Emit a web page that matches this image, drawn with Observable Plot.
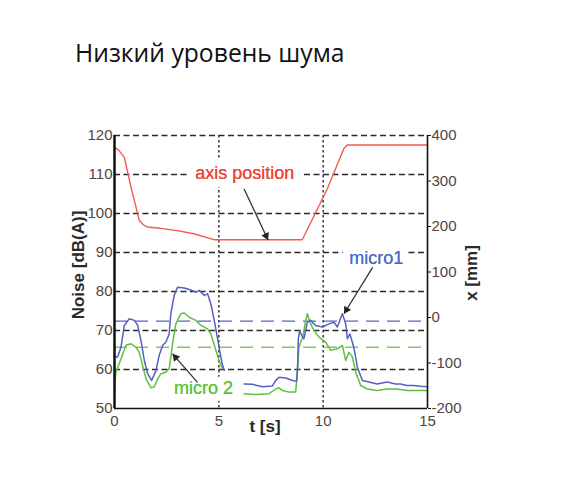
<!DOCTYPE html>
<html>
<head>
<meta charset="utf-8">
<script src="https://cdn.jsdelivr.net/npm/d3@7"></script>
<script src="https://cdn.jsdelivr.net/npm/@observablehq/plot@0.6"></script>
<style>
  html, body { margin: 0; padding: 0; background: #fff; }
  #wrap { position: relative; width: 561px; height: 478px; overflow: hidden; }
  #title { position: absolute; left: 75px; top: 41px; font-family: "Open Sans", sans-serif; font-size: 24.7px; line-height: 24px; color: #111; white-space: nowrap; }
  #chart { position: absolute; left: 0; top: 0; }
</style>
</head>
<body>
<div id="wrap">
  <div id="chart"></div>
  <div id="title"></div>
</div>
<script>
// ---- data ----
const titleText = "Низкий уровень шума";
const xTicks = [0, 5, 10, 15];
const yTicks = [50, 60, 70, 80, 90, 100, 110, 120];
const gridY = [60, 70, 80, 90, 100, 110, 120];
const gridX = [5, 10];
const mmTicks = [-200, -100, 0, 100, 200, 300, 400];

// axis position (mm, right axis)
const timeAxis = [0, 0.2, 0.47, 0.8, 1.19, 1.4, 1.57, 2.2, 3.0, 3.8, 4.76, 9.0, 10.2, 11.0, 11.15, 15];
const posAxis  = [374, 368, 352, 285, 213, 203, 199, 196, 191, 184, 171, 171, 283, 372, 379, 379];

// micro1 (dB(A))
const timeMicro1 = [0, 0.15, 0.31, 0.47, 0.71, 0.95, 1.11, 1.27, 1.43, 1.59, 1.78, 1.99, 2.14, 2.31, 2.46, 2.62, 2.70, 2.86, 3.02, 3.34, 3.66, 3.9, 4.06, 4.3, 4.46, 4.62, 4.78, 4.94, 5.05, 5.18, 5.26,
  5.7,
  6.21, 6.61, 7.09, 7.57, 7.73, 7.89, 8.21, 8.53, 8.73, 8.78, 8.81, 8.88, 8.97, 9.08, 9.24, 9.4, 9.64, 9.96, 10.28, 10.52, 10.68, 10.92, 11.08, 11.16, 11.28, 11.47, 11.64, 11.88, 12.19, 12.59, 13.07, 13.47, 13.7, 14.03, 14.34, 14.67, 15];
const noiseMicro1 = [63.2, 63.2, 65.7, 71.3, 73, 72.6, 71.3, 67.4, 62.3, 58.9, 57.2, 59.7, 63.6, 66.2, 67, 69.1, 74.3, 79, 81.1, 80.9, 80.4, 79.8, 80.3, 79, 79.4, 76.8, 72.6, 67.9, 64.5, 61, 59.8,
  null,
  56.3, 56.2, 55.6, 55.8, 57.2, 58, 57.8, 57.2, 57, 61.5, 67.9, 70, 68.7, 67.9, 72.1, 72.6, 71.3, 70.9, 71.7, 72.1, 70.9, 74.3, 71.7, 67.9, 69.1, 65.7, 60.6, 57.2, 56.8, 56.3, 56.8, 56.3, 56.3, 55.9, 55.9, 55.7, 55.6];

// micro 2 (dB(A))
const timeMicro2 = [0, 0.02, 0.08, 0.31, 0.55, 0.79, 1.03, 1.19, 1.35, 1.51, 1.75, 1.9, 2.07, 2.22, 2.46, 2.62, 2.70, 2.78, 2.94, 3.18, 3.34, 3.58, 3.9, 4.14, 4.46, 4.62, 4.86, 5.01, 5.18,
  5.7,
  6.21, 6.77, 7.41, 7.73, 7.89, 8.05, 8.36, 8.68, 8.76, 8.84, 8.92, 9.03, 9.13, 9.24, 9.4, 9.56, 9.8, 10.12, 10.36, 10.68, 10.92, 11.08, 11.24, 11.4, 11.56, 11.8, 12.11, 12.59, 13.07, 13.55, 14.03, 14.67, 15];
const noiseMicro2 = [54.5, 57.2, 59.5, 62.7, 66.2, 66.6, 65.7, 64.4, 61, 57.6, 55.3, 55.5, 57.6, 58.9, 59.3, 60.2, 63.2, 66.6, 71.7, 74.3, 74.5, 73.4, 72.6, 71.3, 70.4, 69.1, 64.9, 62.3, 60.2,
  null,
  53.8, 53.6, 53.8, 55, 55.3, 54.6, 54.2, 54.2, 58.9, 65.7, 67, 68.3, 71.7, 74.3, 71.7, 70, 68.3, 67, 64.9, 65.3, 66.2, 62.3, 64.4, 63.2, 59.3, 55.9, 55, 54.6, 55, 55, 54.6, 54.6, 54.6];

// dashed reference levels (dB(A))
const refMicro1 = 72.4;
const refMicro2 = 65.7;

// annotations
const labelTexts = ["axis position", "micro1", "micro 2"];
const labelT = [6.24, 12.54, 4.26];
const labelDb = [110.3, 88.5, 55.1];
const labelColors = ["#ee4438", "#4e6cc8", "#5cc23c"];
const arrowT1 = [6.21, 12.37, 3.98];
const arrowDb1 = [106.3, 86.2, 56.7];
const arrowT2 = [7.36, 11.0, 2.78];
const arrowDb2 = [93.2, 74.3, 64.0];

// ---- helpers ----
const dbMin = 50, dbMax = 120, mmMin = -200, mmMax = 400;
const mmToDb = mm => dbMin + (mm - mmMin) / (mmMax - mmMin) * (dbMax - dbMin);
const dbToMm = db => mmMin + (db - dbMin) / (dbMax - dbMin) * (mmMax - mmMin);

const axisData = timeAxis.map((t, i) => ({t, v: mmToDb(posAxis[i])}));
const m1Data = timeMicro1.map((t, i) => ({t, v: noiseMicro1[i]}));
const m2Data = timeMicro2.map((t, i) => ({t, v: noiseMicro2[i]}));
const labels = labelTexts.map((text, i) => ({text, t: labelT[i], v: labelDb[i], c: labelColors[i]}));
const arrows = arrowT1.map((t, i) => ({x1: t, y1: arrowDb1[i], x2: arrowT2[i], y2: arrowDb2[i]}));

const font = "'Liberation Sans', Arial, sans-serif";
const tickColor = "#4f4444";

function build(heads) {
  return Plot.plot({
    width: 561,
    height: 478,
    marginTop: 135,
    marginBottom: 70,
    marginLeft: 114,
    marginRight: 134,
    style: {fontFamily: font, background: "white"},
    x: {domain: [0, 15]},
    y: {domain: [dbMin, dbMax]},
    marks: [
      // grid
      Plot.ruleY(gridY, {stroke: "#2a2a2a", strokeWidth: 1.4, strokeDasharray: "6,3.5"}),
      Plot.ruleX(gridX, {stroke: "#2a2a2a", strokeWidth: 1.4, strokeDasharray: "2.5,2.5"}),
      // reference levels
      Plot.ruleY([refMicro1], {stroke: "#5a63c4", strokeWidth: 1.4, strokeDasharray: "13,8"}),
      Plot.ruleY([refMicro2], {stroke: "#7ccb5c", strokeWidth: 1.4, strokeDasharray: "13,8"}),
      // curves
      Plot.line(axisData, {x: "t", y: "v", stroke: "#f25a4c", strokeWidth: 1.4}),
      Plot.line(m2Data, {x: "t", y: "v", stroke: "#5fc040", strokeWidth: 1.5}),
      Plot.line(m1Data, {x: "t", y: "v", stroke: "#5660c2", strokeWidth: 1.5}),
      // labels with white backing
      Plot.text(labels, {x: "t", y: "v", text: "text", fill: "c", stroke: "white", strokeWidth: 16, fontSize: 18, textAnchor: "middle", lineAnchor: "middle"}),
      Plot.text(labels, {x: "t", y: "v", text: "text", fill: "c", fontSize: 18, textAnchor: "middle", lineAnchor: "middle"}),
      // arrows: shaft + filled head
      Plot.link(arrows, {x1: "x1", y1: "y1", x2: "x2", y2: "y2", stroke: "#333", strokeWidth: 1.3}),
      Plot.dot(heads, {x: "x", y: "y", rotate: "a", symbol: "triangle", r: 3, fill: "#222", stroke: "none"}),
      // frame lines
      Plot.ruleX([0], {stroke: "#111", strokeWidth: 2.5}),
      Plot.ruleX([15], {stroke: "#111", strokeWidth: 1.6}),
      Plot.ruleY([50], {stroke: "#111", strokeWidth: 1.6}),
      // axes
      Plot.axisX(xTicks, {tickSize: 0, tickPadding: 7, fontSize: 15, fill: tickColor, label: null}),
      Plot.axisY(yTicks, {anchor: "left", tickSize: 0, tickPadding: 2, fontSize: 15, fill: tickColor, label: null}),
      Plot.axisY(mmTicks.map(mmToDb), {anchor: "right", tickSize: 3, tickPadding: 1, fontSize: 15, fill: tickColor, stroke: "#111", tickFormat: d => String(Math.round(dbToMm(d))), label: null}),
      // axis titles
      Plot.text(["Noise [dB(A)]"], {frameAnchor: "left", dx: -36, dy: -7, rotate: -90, fontSize: 17, fontWeight: "bold", fill: "#2a2a2a", textAnchor: "middle", lineAnchor: "middle"}),
      Plot.text(["x [mm]"], {frameAnchor: "right", dx: 44, dy: 1, rotate: -90, fontSize: 17, fontWeight: "bold", fill: "#2a2a2a", textAnchor: "middle", lineAnchor: "middle"}),
      Plot.text(["t [s]"], {frameAnchor: "bottom", dx: -6, dy: 18, fontSize: 17, fontWeight: "bold", fill: "#2a2a2a", textAnchor: "middle", lineAnchor: "middle"})
    ]
  });
}

// first pass to obtain the scales, then place filled arrowheads
const probe = build([]);
const sx = probe.scale("x"), sy = probe.scale("y");
const fx = d3.scaleLinear(sx.domain, sx.range);
const fy = d3.scaleLinear(sy.domain, sy.range);
const heads = arrows.map(a => {
  const px1 = fx(a.x1), py1 = fy(a.y1), px2 = fx(a.x2), py2 = fy(a.y2);
  const L = Math.hypot(px2 - px1, py2 - py1);
  const ux = (px2 - px1) / L, uy = (py2 - py1) / L;
  const back = 4.6;
  return {
    x: fx.invert(px2 - ux * back),
    y: fy.invert(py2 - uy * back),
    a: Math.atan2(ux, -uy) * 180 / Math.PI
  };
});
const plot = build(heads);
document.getElementById("title").textContent = titleText;
document.getElementById("chart").appendChild(plot);
</script>
</body>
</html>
